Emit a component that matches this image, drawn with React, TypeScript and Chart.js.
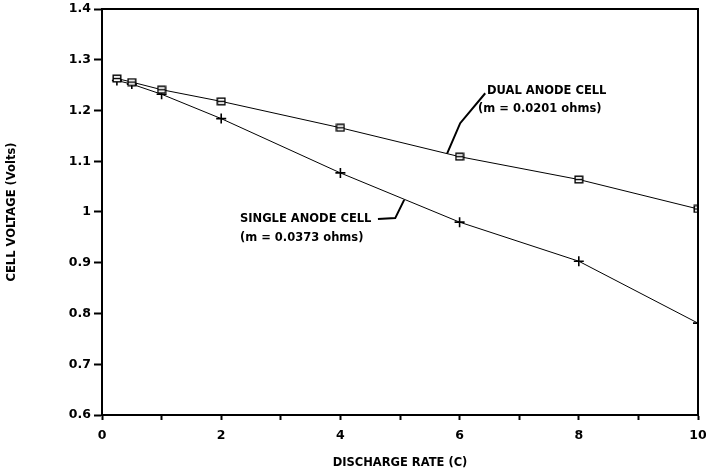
import React, { useEffect, useRef } from 'react';
import { Chart, registerables } from 'chart.js';

Chart.register(...registerables);

// ---- data ----
const dischargeRates = [0.25, 0.5, 1, 2, 4, 6, 8, 10];
const dualAnodeVolts = [1.263, 1.256, 1.241, 1.218, 1.166, 1.109, 1.064, 1.006];
const singleAnodeVolts = [1.259, 1.252, 1.232, 1.184, 1.077, 0.98, 0.903, 0.781];

const xTickValues = [0, 2, 4, 6, 8, 10];
const yMin = 0.6;
const yMax = 1.4;

const xAxisTitle = 'DISCHARGE RATE (C)';
const yAxisTitle = 'CELL VOLTAGE (Volts)';

// annotation labels (data coordinates)
const dualLabelLines = ['DUAL ANODE CELL', '(m = 0.0201 ohms)'];
const dualLabelX = [6.46, 6.31];
const dualLabelY = [1.238, 1.202];
const dualLeaderX = [5.79, 6.01, 6.43];
const dualLeaderY = [1.115, 1.175, 1.234];

const singleLabelLines = ['SINGLE ANODE CELL', '(m = 0.0373 ohms)'];
const singleLabelX = [2.315, 2.315];
const singleLabelY = [0.986, 0.949];
const singleLeaderX = [4.63, 4.92, 5.07];
const singleLeaderY = [0.986, 0.988, 1.024];

const FONT = 'DejaVu Sans';

export default function App() {
  const ref = useRef<HTMLCanvasElement>(null);

  useEffect(() => {
    const canvas = ref.current;
    if (!canvas) return;

    // square marker with a horizontal bar
    const sq = document.createElement('canvas');
    sq.width = 10;
    sq.height = 9;
    const c = sq.getContext('2d')!;
    c.fillStyle = '#fff';
    c.fillRect(1, 1, 8, 7);
    c.strokeStyle = '#000';
    c.lineWidth = 1.4;
    c.strokeRect(1.2, 1.2, 7.6, 6.6);
    c.beginPath();
    c.moveTo(1, 4.5);
    c.lineTo(9, 4.5);
    c.stroke();

    const annotationPlugin = {
      id: 'annotations',
      afterDraw(chart: any) {
        const { ctx, chartArea, scales } = chart;
        const xs = scales.x;
        const ys = scales.y;
        ctx.save();
        // frame (top and right)
        ctx.strokeStyle = '#000';
        ctx.lineWidth = 2;
        ctx.beginPath();
        ctx.moveTo(chartArea.left, chartArea.top);
        ctx.lineTo(chartArea.right, chartArea.top);
        ctx.lineTo(chartArea.right, chartArea.bottom);
        ctx.stroke();

        const drawLabel = (lines: string[], lx: number[], ly: number[], px: number[], py: number[]) => {
          ctx.fillStyle = '#000';
          ctx.font = `bold 11.5px "${FONT}"`;
          ctx.textAlign = 'left';
          ctx.textBaseline = 'middle';
          lines.forEach((t, i) => {
            ctx.fillText(t, xs.getPixelForValue(lx[i]), ys.getPixelForValue(ly[i]));
          });
          ctx.lineWidth = 2;
          ctx.beginPath();
          px.forEach((v, i) => {
            const X = xs.getPixelForValue(v);
            const Y = ys.getPixelForValue(py[i]);
            if (i === 0) ctx.moveTo(X, Y);
            else ctx.lineTo(X, Y);
          });
          ctx.stroke();
        };
        drawLabel(dualLabelLines, dualLabelX, dualLabelY, dualLeaderX, dualLeaderY);
        drawLabel(singleLabelLines, singleLabelX, singleLabelY, singleLeaderX, singleLeaderY);
        ctx.restore();
      },
    };

    const chart = new Chart(canvas, {
      type: 'line',
      data: {
        datasets: [
          {
            label: 'Dual anode cell',
            data: dischargeRates.map((x, i) => ({ x, y: dualAnodeVolts[i] })),
            borderColor: '#000',
            borderWidth: 1,
            pointStyle: sq as any,
            pointRadius: 5,
            backgroundColor: '#fff',
            tension: 0,
          },
          {
            label: 'Single anode cell',
            data: dischargeRates.map((x, i) => ({ x, y: singleAnodeVolts[i] })),
            borderColor: '#000',
            borderWidth: 1,
            pointStyle: 'cross',
            pointRadius: 5,
            pointBorderWidth: 1.6,
            pointBorderColor: '#000',
            tension: 0,
          },
        ],
      },
      options: {
        responsive: false,
        animation: false,
        devicePixelRatio: 1,
        layout: { padding: { top: 9, right: 8, left: 0, bottom: 0 } },
        plugins: {
          legend: { display: false },
          tooltip: { enabled: false },
        },
        scales: {
          x: {
            type: 'linear',
            min: 0,
            max: 10,
            afterFit: (s: any) => {
              s.height = 58;
              s.paddingRight = 0;
              s.paddingLeft = 0;
            },
            border: { display: true, color: '#000', width: 2 },
            grid: {
              drawOnChartArea: false,
              drawTicks: true,
              tickLength: 5,
              tickWidth: 2,
              tickColor: '#000',
            },
            ticks: {
              stepSize: 1,
              autoSkip: false,
              maxRotation: 0,
              padding: 8,
              color: '#000',
              font: { family: FONT, weight: 'bold', size: 12.5 },
              callback: (v: any) => (xTickValues.includes(Number(v)) ? String(v) : ''),
            },
            title: {
              display: true,
              text: xAxisTitle,
              color: '#000',
              font: { family: FONT, weight: 'bold', size: 11.5 },
              padding: { top: 0, bottom: 3 },
            },
          },
          y: {
            type: 'linear',
            min: yMin,
            max: yMax,
            afterFit: (s: any) => {
              s.width = 102;
              s.paddingTop = 0;
              s.paddingBottom = 0;
            },
            border: { display: true, color: '#000', width: 2 },
            grid: {
              drawOnChartArea: false,
              drawTicks: true,
              tickLength: 8,
              tickWidth: 2,
              tickColor: '#000',
            },
            ticks: {
              stepSize: 0.1,
              padding: 3,
              color: '#000',
              font: { family: FONT, weight: 'bold', size: 12.5 },
              callback: (v: any) => String(Number(Number(v).toFixed(1))),
            },
            title: {
              display: true,
              text: yAxisTitle,
              color: '#000',
              font: { family: FONT, weight: 'bold', size: 11.5 },
              padding: { top: 5, bottom: 0 },
            },
          },
        },
      } as any,
      plugins: [annotationPlugin],
    });

    return () => chart.destroy();
  }, []);

  return (
    <div style={{ position: 'absolute', left: 0, top: 0, width: 706, height: 473, background: '#fff' }}>
      <canvas ref={ref} width={706} height={473} style={{ display: 'block' }} />
    </div>
  );
}
